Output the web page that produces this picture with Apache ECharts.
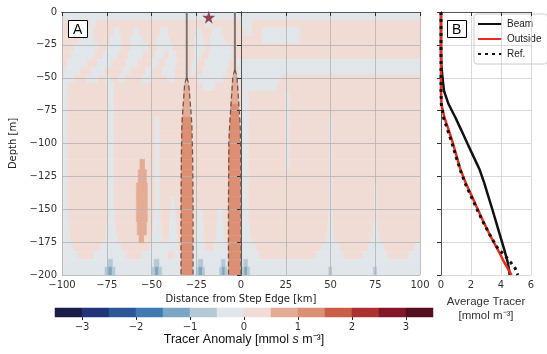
<!DOCTYPE html>
<html><head><meta charset="utf-8">
<script src="https://cdn.jsdelivr.net/npm/echarts@6.0.0/dist/echarts.min.js"></script>
<style>html,body{margin:0;padding:0;background:#fff}#c{width:547px;height:354px}</style>
</head><body><div id="c"></div>
<script>
// ---------- data ----------
// anomaly contour levels (colour bar)
const levelBounds = [-3.5,-3,-2.5,-2,-1.5,-1,-0.5,0,0.5,1,1.5,2,2.5,3,3.5];
const levelColors = ['#1b1d48','#22357a','#2a5798','#3f7ab3','#7aa6c3','#b3c9d3','#e0e6ea','#f1dcd5','#e4ab95','#dc8f72','#c95f46','#ad3131','#84162a','#530f1f'];
const levelCodes = 'abcdefghijklmn';   // code letter -> level index
const cbTicks = [-3,-2,-1,0,1,2,3];

// depth rows (m) of the anomaly section
const depthEdges = [0,-6,-12,-18,-24,-30,-36,-42,-48,-54,-60,-70,-80,-90,-100,-112,-120,-130,-140,-150,-160,-170,-176,-182,-188,-194,-200];
// each row: "level:startX" segments along distance (km)
const anomalyRows = [
 "g:-100",
 "h:-100 g:-84 h:-81 g:-20 h:-16 g:0 h:6",
 "h:-100 g:-88 h:-83 g:-71 h:-68 g:-60 h:-57 g:-45 h:-41 g:-25 h:-22 g:-16 h:-11 g:2 h:6 g:12 h:33",
 "h:-100 g:-90 h:-82 g:-73 h:-67 g:-62 h:-55 g:-47 h:-40 g:-26 h:-21 g:-17 h:-9 g:12 h:33",
 "h:-100 g:-93 h:-80 g:-75 h:-67 g:-62 h:-52 g:-47 h:-38 g:-26 h:-20 g:-17 h:-6",
 "h:-100 g:-95 h:-82 g:-77 h:-69 g:-63 h:-55 g:-48 h:-43 g:-40 h:-36 g:-26 h:-22 g:-18 h:-5",
 "h:-100 g:-97 h:-86 g:-80 h:-72 g:-64 h:-58 g:-50 h:-46 g:-42 h:-36 g:-27 h:-24 g:-20 h:-7 g:-2",
 "h:-100 g:-98 h:-90 g:-84 h:-76 g:-66 h:-62 g:-53 h:-50 g:-44 h:-37 g:-28 h:-25 g:-21 h:-8 g:-1",
 "h:-100 g:-99 h:-93 g:-86 h:-80 g:-76 h:-73 g:-68 h:-65 g:-55 h:-50 g:-41 h:-37 g:-24 h:-10 i:-4.5 g:-2 h:22",
 "g:-100 h:-97 g:-74 h:-71 i:-31.5 h:-29 g:-21 h:-15 i:-5 h:-1.5 g:1 h:20",
 "g:-100 h:-97 g:-74 h:-71 i:-32 h:-28.5 i:-5.5 h:-1.2 g:1 h:4 g:25 h:27",
 "g:-100 h:-97 g:-74 h:-71 i:-32.5 h:-28 j:-5.8 h:-1 g:1 h:4 g:25 h:27",
 "g:-100 h:-97 g:-74 h:-71 g:-48 h:-45.5 j:-33 h:-27.5 j:-6.2 h:-0.5 g:1 h:4 g:25 h:27 g:49.5 h:51",
 "g:-100 h:-97 g:-74 h:-71 g:-48 h:-45.5 j:-33.2 h:-27.2 j:-6.6 h:-0.2 g:1 h:4 g:25 h:27 g:49.5 h:51",
 "g:-100 h:-97 g:-74 h:-71 g:-48 h:-45.5 j:-33.3 h:-27 j:-6.9 h:0 g:1 h:4 g:25 h:27 g:49.5 h:51",
 "g:-100 h:-97 g:-74 h:-71 i:-56.5 h:-53.5 g:-48 h:-45.5 j:-33.4 h:-27 j:-7 h:0 g:1 h:4 g:25 h:27 g:49.5 h:51",
 "g:-100 h:-97 g:-74 h:-71 i:-57.5 h:-52.5 g:-48 h:-45.5 j:-33.4 h:-26.9 j:-7 h:0 g:1 h:4 g:49.5 h:51",
 "g:-100 h:-97 g:-74 h:-71 i:-58.5 h:-52 g:-48 h:-45.5 j:-33.5 h:-26.8 j:-7 h:0 g:1 h:4 g:49.5 h:51 g:74.5 h:76",
 "g:-100 h:-97 g:-74 h:-71 i:-58.5 h:-52 g:-48 h:-45.5 g:-39 h:-37 j:-33.5 h:-26.8 j:-7 h:0 g:1 h:4 g:49.5 h:51 g:74.5 h:76",
 "g:-100 h:-96.5 g:-74.5 h:-70.5 i:-58.5 h:-52 g:-48.5 h:-45 g:-39.5 h:-36.5 j:-33.5 h:-26.8 g:-24 h:-21.5 g:-13 h:-10 j:-7 h:0 g:1 h:4.5 g:49 h:51 g:74.5 h:76",
 "g:-100 h:-96 g:-75 h:-70 i:-58 h:-52.5 g:-49 h:-44.5 g:-40 h:-36 j:-33.5 h:-26.8 g:-24.5 h:-21 g:-13.5 h:-9.5 j:-7 h:0 g:0.5 h:5 g:48.5 h:51.5 g:74 h:76.5",
 "g:-100 h:-95 g:-76 h:-69 i:-57 h:-54 g:-50 h:-43.5 g:-41 h:-35.5 j:-33.5 h:-26.8 g:-25 h:-20.5 g:-14 h:-9 j:-7 h:0 g:0.5 h:6 g:47.5 h:52.5 g:73 h:77.5",
 "g:-100 h:-94 g:-78 h:-67 g:-51 h:-35 j:-33.5 g:-26.8 h:-20 g:-15 h:-8 j:-7 g:0 h:8 g:45 h:55 g:71 h:80 g:97",
 "g:-100 h:-91 g:-82 h:-64 g:-55 h:-41 g:-37 j:-33.5 g:-26.8 j:-7 g:0 h:10 g:42 h:57 g:68 h:82 g:94",
 "g:-100 f:-74.5 g:-71.5 f:-48.5 g:-45.5 j:-33.5 g:-26.8 f:-24 g:-21 f:-11 g:-8.5 j:-7 g:0 f:1.5 g:4",
 "g:-100 f:-76 e:-74 f:-72 g:-70 f:-50 e:-48 f:-46 g:-44 j:-33.5 g:-26.8 f:-25 e:-23.5 f:-21.5 g:-20 f:-12 e:-10.5 f:-9 g:-7.5 j:-7 g:0 f:0.5 e:2 f:3.5 g:5 f:49 g:51 f:74 g:76"
];

// beam stems (upper part) and dashed outlines [distance km, depth m]
const leftBeamStem  = [[-30.3,0],[-30.3,-52]];
const rightBeamStem = [[-3.4,0],[-3.4,-46]];
const leftBeamWest  = [[-30.4,-50],[-31.5,-55],[-32,-65],[-32.5,-75],[-33,-85],[-33.3,-110],[-33.5,-150],[-33.5,-200]];
const leftBeamEast  = [[-30.2,-50],[-29.2,-55],[-28.6,-65],[-28,-75],[-27.5,-85],[-27,-110],[-26.8,-150],[-26.8,-200]];
const rightBeamWest = [[-3.5,-44],[-4.6,-50],[-5.3,-65],[-5.8,-75],[-6.3,-85],[-6.8,-100],[-7,-150],[-7,-200]];
const rightBeamEast = [[-3.3,-44],[-2.2,-50],[-1.5,-65],[-1,-75],[-0.5,-85],[-0.2,-100],[0,-150],[0,-200]];
const starPoint = [[-18,-4]];

// panel B profiles
const depthsB    = [0,-10,-20,-30,-40,-50,-60,-70,-80,-90,-100,-110,-120,-130,-140,-150,-160,-170,-180,-185,-190,-195,-200];
const beamAvg    = [0,0,0,0,0.02,0.1,0.2,0.5,0.95,1.36,1.76,2.17,2.58,2.88,3.15,3.42,3.68,3.94,4.2,4.32,4.44,4.52,4.58];
const outsideAvg = [0,0,0,0,0,0,0,0.03,0.22,0.52,0.8,1.05,1.3,1.65,2.05,2.45,2.85,3.28,3.75,3.98,4.2,4.45,4.7];
const refAvg     = [0,0,0,0,0,0,0,0.02,0.16,0.45,0.74,1.0,1.28,1.6,2.0,2.4,2.82,3.28,3.8,4.25,4.62,4.95,5.12];

// ---------- build ----------
const cells = [];
anomalyRows.forEach((row, r) => {
  const toks = row.trim().split(/\s+/).map(t => { const p = t.split(':'); return {k: levelCodes.indexOf(p[0]), x: parseFloat(p[1])}; });
  toks.forEach((t, i) => {
    const x1 = i + 1 < toks.length ? toks[i + 1].x : 100;
    cells.push([t.x, x1, depthEdges[r], depthEdges[r + 1], levelBounds[t.k] + 0.25]);
  });
});
const cbCells = levelColors.map((c, k) => [levelBounds[k], levelBounds[k + 1], 0, 1, levelBounds[k] + 0.25]);
function colorFor(v) {
  for (let k = 0; k < levelColors.length; k++) if (v >= levelBounds[k] && v < levelBounds[k + 1]) return levelColors[k];
  return levelColors[levelColors.length - 1];
}
function renderCell(params, api) {
  const p0 = api.coord([api.value(0), api.value(2)]);
  const p1 = api.coord([api.value(1), api.value(3)]);
  const c = colorFor(api.value(4));
  return {type: 'rect', shape: {x: Math.min(p0[0], p1[0]), y: Math.min(p0[1], p1[1]), width: Math.abs(p1[0] - p0[0]), height: Math.abs(p1[1] - p0[1])},
    style: {fill: c, stroke: c, lineWidth: 0.5}};
}
const minus = v => String(v).replace('-', '\u2212');
const F = 'DejaVu Sans';
const lab = {fontFamily: F, fontSize: 10, color: '#333'};
const frameLine = {show: true, lineStyle: {color: '#555', width: 1}};
const pair = (xs, ys) => xs.map((x, i) => [x, ys[i]]);
const beamDash = {color: '#6e5650', width: 1.3, type: [5, 3]};

const option = {
  animation: false,
  backgroundColor: '#fff',
  title: [
    {text: 'A', left: 68, top: 20, padding: [3, 5, 1, 5], backgroundColor: '#fff', borderColor: '#000', borderWidth: 1,
     textStyle: {fontFamily: 'Liberation Sans', fontSize: 14, fontWeight: 'normal', color: '#000'}},
    {text: 'B', left: 447, top: 20, padding: [3, 5, 1, 5], backgroundColor: '#fff', borderColor: '#000', borderWidth: 1,
     textStyle: {fontFamily: 'Liberation Sans', fontSize: 14, fontWeight: 'normal', color: '#000'}}
  ],
  legend: {
    left: 474, top: 14, orient: 'vertical', itemWidth: 24, itemHeight: 10, itemGap: 3,
    padding: [4, 6, 4, 3], backgroundColor: 'rgba(255,255,255,0.9)', borderColor: '#ccc', borderWidth: 1, borderRadius: 3,
    itemStyle: {opacity: 0},
    textStyle: {fontFamily: 'Liberation Sans', fontSize: 10, color: '#222', lineHeight: 12},
    data: ['Beam', 'Outside', 'Ref.']
  },
  grid: [
    {left: 62, top: 12, width: 358, height: 263},
    {left: 441, top: 12, width: 90, height: 263},
    {left: 55, top: 308, width: 378, height: 9}
  ],
  xAxis: [
    {gridIndex: 0, type: 'value', min: -100, max: 100, interval: 25, z: 5,
     axisLine: frameLine, axisTick: {show: true, length: 4, lineStyle: {color: '#333'}},
     axisLabel: Object.assign({margin: 5, formatter: minus}, lab),
     splitLine: {show: true, lineStyle: {color: '#b3b3b3', width: 0.8}},
     name: 'Distance from Step Edge [km]', nameLocation: 'middle', nameGap: 17, nameTextStyle: {fontFamily: F, fontSize: 10, color: '#222'}},
    {gridIndex: 0, type: 'value', min: -100, max: 100, position: 'top', z: 5, axisLine: frameLine, axisTick: {show: false}, axisLabel: {show: false}, splitLine: {show: false}},
    {gridIndex: 1, type: 'value', min: 0, max: 6, interval: 2, z: 5,
     axisLine: frameLine, axisTick: {show: true, length: 4, lineStyle: {color: '#333'}},
     axisLabel: Object.assign({margin: 5}, lab),
     splitLine: {show: true, lineStyle: {color: '#d0d0d0', width: 0.8}},
     name: 'Average Tracer\n[mmol m\u207B\u00B3]', nameLocation: 'middle', nameGap: 20,
     nameTextStyle: {fontFamily: 'Liberation Sans', fontSize: 11.5, color: '#333', lineHeight: 14}},
    {gridIndex: 1, type: 'value', min: 0, max: 6, position: 'top', z: 5, axisLine: frameLine, axisTick: {show: false}, axisLabel: {show: false}, splitLine: {show: false}},
    {gridIndex: 2, type: 'value', min: -3.5, max: 3.5, z: 5,
     axisLine: {show: false}, axisTick: {show: true, length: 3, customValues: cbTicks, lineStyle: {color: '#333'}},
     axisLabel: Object.assign({margin: 5, customValues: cbTicks, formatter: minus}, lab),
     splitLine: {show: false},
     name: 'Tracer Anomaly [mmol {i|s} m\u207B\u00B3]', nameLocation: 'middle', nameGap: 15,
     nameTextStyle: {fontFamily: 'Liberation Sans', fontSize: 12.5, color: '#111', rich: {i: {fontFamily: 'Liberation Sans', fontStyle: 'italic', fontSize: 12.5, color: '#111'}}}}
  ],
  yAxis: [
    {gridIndex: 0, type: 'value', min: -200, max: 0, interval: 25, z: 5,
     axisLine: frameLine, axisTick: {show: true, length: 4, lineStyle: {color: '#333'}},
     axisLabel: Object.assign({margin: 5, formatter: minus}, lab),
     splitLine: {show: true, lineStyle: {color: '#b3b3b3', width: 0.8}},
     name: 'Depth [m]', nameLocation: 'middle', nameGap: 38, nameTextStyle: {fontFamily: F, fontSize: 10, color: '#222'}},
    {gridIndex: 0, type: 'value', min: -200, max: 0, position: 'right', z: 5, axisLine: frameLine, axisTick: {show: false}, axisLabel: {show: false}, splitLine: {show: false}},
    {gridIndex: 1, type: 'value', min: -200, max: 0, interval: 25, z: 5,
     axisLine: frameLine, axisTick: {show: true, length: 4, lineStyle: {color: '#333'}}, axisLabel: {show: false},
     splitLine: {show: true, lineStyle: {color: '#d0d0d0', width: 0.8}}},
    {gridIndex: 1, type: 'value', min: -200, max: 0, position: 'right', z: 5, axisLine: frameLine, axisTick: {show: false}, axisLabel: {show: false}, splitLine: {show: false}},
    {gridIndex: 2, type: 'value', min: 0, max: 1, show: false}
  ],
  series: [
    {type: 'custom', name: 'anomaly', xAxisIndex: 0, yAxisIndex: 0, renderItem: renderCell, data: cells, encode: {x: [0, 1], y: [2, 3]}, clip: true, z: 1, silent: true},
    {type: 'line', name: 'ls', xAxisIndex: 0, yAxisIndex: 0, data: leftBeamStem, symbol: 'none', z: 10, lineStyle: {color: '#7d7573', width: 2}},
    {type: 'line', name: 'rs', xAxisIndex: 0, yAxisIndex: 0, data: rightBeamStem, symbol: 'none', z: 10, lineStyle: {color: '#7d7573', width: 2}},
    {type: 'line', name: 'lb1', xAxisIndex: 0, yAxisIndex: 0, data: leftBeamWest, symbol: 'none', z: 10, lineStyle: beamDash},
    {type: 'line', name: 'lb2', xAxisIndex: 0, yAxisIndex: 0, data: leftBeamEast, symbol: 'none', z: 10, lineStyle: beamDash},
    {type: 'line', name: 'rb1', xAxisIndex: 0, yAxisIndex: 0, data: rightBeamWest, symbol: 'none', z: 10, lineStyle: beamDash},
    {type: 'line', name: 'rb2', xAxisIndex: 0, yAxisIndex: 0, data: rightBeamEast, symbol: 'none', z: 10, lineStyle: beamDash},
    {type: 'scatter', name: 'star', xAxisIndex: 0, yAxisIndex: 0, data: starPoint, z: 11,
     symbol: 'path://M50,0 L61,35 L98,35 L68,57 L79,91 L50,70 L21,91 L32,57 L2,35 L39,35 Z', symbolSize: 13, itemStyle: {color: '#7b1b2e'}},
    {type: 'line', name: 'Beam', xAxisIndex: 2, yAxisIndex: 2, data: pair(beamAvg, depthsB), symbol: 'none', z: 10, color: '#111', lineStyle: {color: '#111', width: 2.5}},
    {type: 'line', name: 'Outside', xAxisIndex: 2, yAxisIndex: 2, data: pair(outsideAvg, depthsB), symbol: 'none', z: 11, color: '#ee2a1b', lineStyle: {color: '#ee2a1b', width: 2.5}},
    {type: 'line', name: 'Ref.', xAxisIndex: 2, yAxisIndex: 2, data: pair(refAvg, depthsB), symbol: 'none', z: 12, color: '#111', lineStyle: {color: '#111', width: 3, type: [3, 4]}},
    {type: 'custom', name: 'colorbar', xAxisIndex: 4, yAxisIndex: 4, renderItem: renderCell, data: cbCells, encode: {x: [0, 1], y: [2, 3]}, z: 1, silent: true}
  ]
};
const chart = echarts.init(document.getElementById('c'), null, {renderer: 'canvas'});
chart.setOption(option);
</script></body></html>
